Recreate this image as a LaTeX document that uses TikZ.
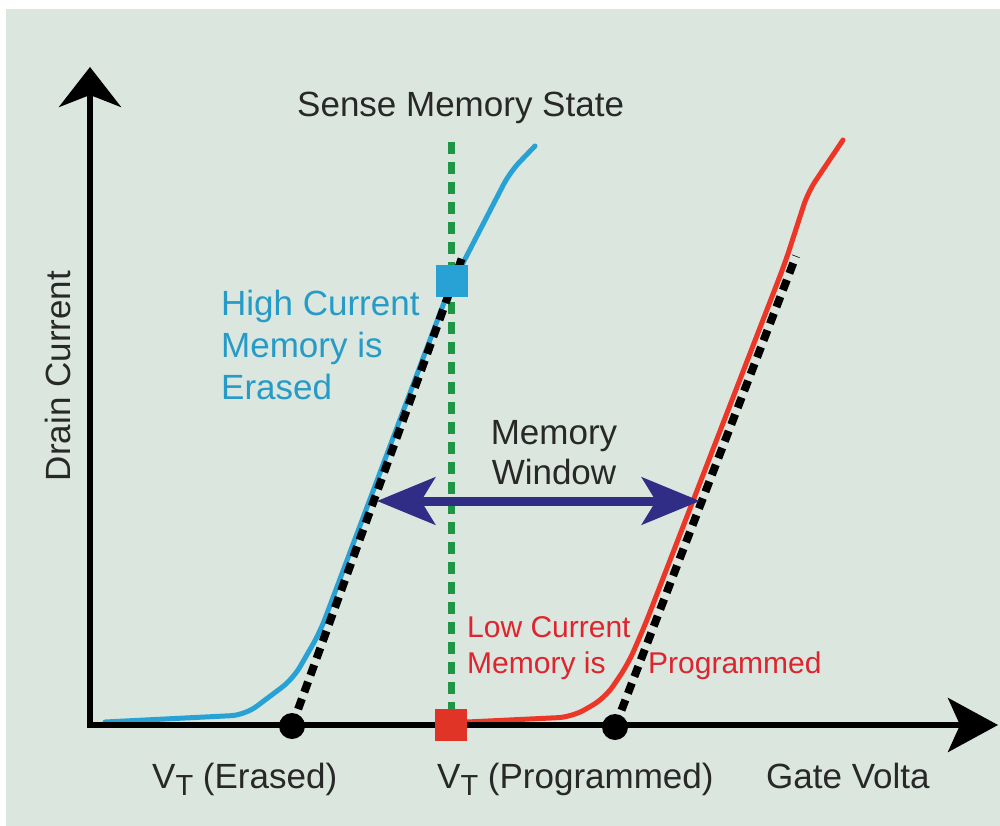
\documentclass[tikz,border=0pt]{standalone}
\usepackage{fontspec}
\setmainfont{Liberation Sans}
\usetikzlibrary{arrows.meta}
\definecolor{bg}{RGB}{218,230,222}
\definecolor{txt}{RGB}{40,40,40}
\definecolor{bluec}{RGB}{40,162,212}
\definecolor{bluet}{RGB}{38,155,200}
\definecolor{redc}{RGB}{236,55,40}
\definecolor{redt}{RGB}{222,36,46}
\definecolor{greenc}{RGB}{30,150,70}
\definecolor{navyc}{RGB}{48,45,135}
\pgfdeclarelayer{bgl}
\pgfdeclarelayer{lines}
\pgfsetlayers{bgl,lines,main}
\newcommand\VT{V\raisebox{-7pt}{\fontsize{29}{29}\selectfont T}}
\tikzset{
  axis/.style={line width=5.5pt, black},
  curveb/.style={bluec, line width=5pt, line cap=round, line join=round, rounded corners=14pt},
  curver/.style={redc, line width=5pt, line cap=round, line join=round, rounded corners=14pt},
  bdash/.style={black, line width=8pt, dash pattern=on 11pt off 7pt},
  gdash/.style={greenc, line width=7pt, dash pattern=on 12pt off 8pt},
  sq/.style={rectangle, minimum size=32pt, inner sep=0pt, draw=none},
  dot/.style={circle, fill=black, minimum size=26pt, inner sep=0pt},
  lbl/.style={text=txt, inner sep=0pt, font=\fontsize{35}{42}\selectfont},
  blbl/.style={text=bluet, inner sep=0pt, font=\fontsize{35}{42}\selectfont},
  rlbl/.style={text=redt, inner sep=0pt, font=\fontsize{30}{36}\selectfont},
}
\begin{document}
\begin{tikzpicture}[x=1pt,y=-1pt]
\useasboundingbox (0,0) rectangle (1000,826);
\begin{pgfonlayer}{bgl}
  \fill[white] (0,0) rectangle (1000,826);
  \fill[bg] (6,9) rectangle (1000,826);
\end{pgfonlayer}
% coordinates
\coordinate (Ox) at (87,725);
\coordinate (Oy) at (90,727);
\coordinate (ytip) at (90,67);
\coordinate (xtip) at (998,725);
\coordinate (gtop) at (451,142);
\coordinate (btop) at (463,255);
\coordinate (rtop) at (796,256);
\coordinate (wl) at (377,501);
\coordinate (wr) at (700,501);
% axes
\draw[axis, -{Stealth[length=40pt,width=62pt,inset=12pt]}] (Oy) -- (ytip);
\draw[axis, -{Stealth[length=50pt,width=54pt,inset=12pt]}] (Ox) -- (xtip);
% markers
\node[sq, fill=bluec] (bsq) at (452,281) {};
\node[sq, fill=redc!95!black] (rsq) at (451,725) {};
\node[dot] (d1) at (292,726) {};
\node[dot] (d2) at (615,727) {};
\begin{pgfonlayer}{lines}
  \draw[gdash] (gtop) -- (rsq.north);
  \draw[curveb] (105,722) -- (245,715) -- (293,679) -- (320,632) -- (448,292) -- (510,172) -- (535,146);
  \draw[curver] (467,722) -- (572,717) -- (605,698) -- (628,664) -- (645,625) -- (785,263) -- (808,192) -- (843,140);
  \draw[bdash] (d1.center) -- (btop);
  \draw[bdash] (d2.center) -- (rtop);
\end{pgfonlayer}
% memory window arrow
\draw[navyc, line width=9pt, {Stealth[length=58pt,width=47pt,inset=14pt]}-{Stealth[length=58pt,width=47pt,inset=14pt]}] (wl) -- (wr);
% texts
\node[lbl, anchor=base west] (sense) at (297,116.5) {Sense Memory State};
\node[lbl, rotate=90, anchor=base] (drain) at (70,376) {Drain Current};
\node[blbl, anchor=base west] (hi1) at (221,315.5) {High Current};
\node[blbl, anchor=base west] (hi2) at (221,357.5) {Memory is};
\node[blbl, anchor=base west] (hi3) at (221,399.5) {Erased};
\node[lbl, anchor=base] (mw1) at (554,444.5) {Memory};
\node[lbl, anchor=base] (mw2) at (554,484.5) {Window};
\node[rlbl, anchor=base west] (lo1) at (467,637) {Low Current};
\node[rlbl, anchor=base west] (lo2) at (467,673) {Memory is};
\node[rlbl, anchor=base west] (lo3) at (648,673) {Programmed};
\node[lbl, anchor=base west] (vte) at (152,788.5) {\VT{} (Erased)};
\node[lbl, anchor=base west] (vtp) at (437,788.5) {\VT{} (Programmed)};
\node[lbl, anchor=base west] (gate) at (766,788.5) {Gate Volta};
\end{tikzpicture}
\end{document}
